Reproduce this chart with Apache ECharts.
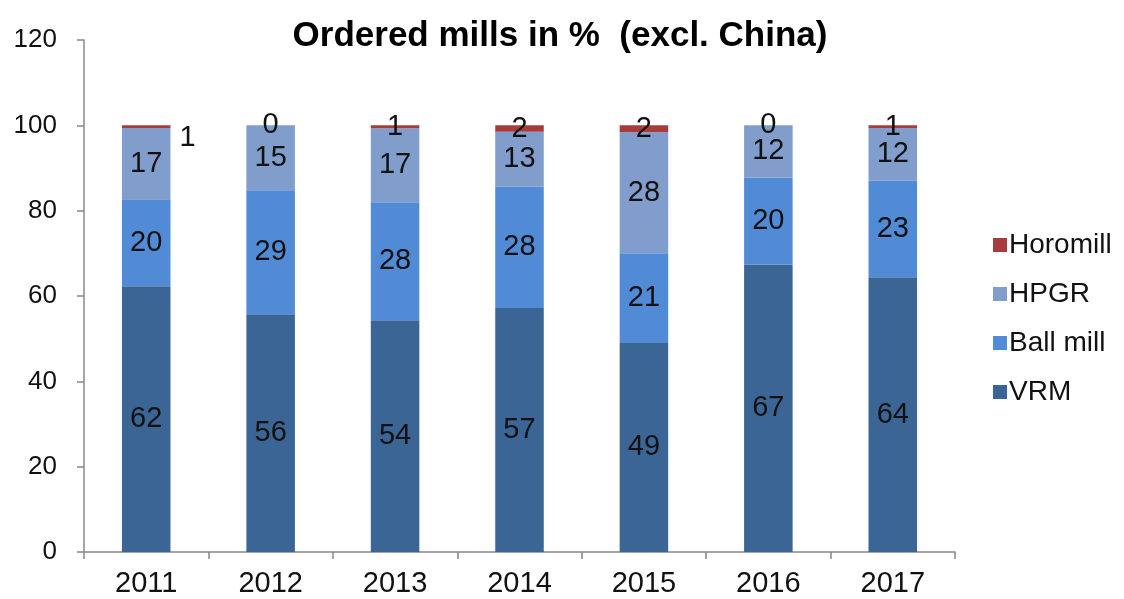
<!DOCTYPE html>
<html>
<head>
<meta charset="utf-8">
<script src="https://cdn.jsdelivr.net/npm/echarts@6/dist/echarts.min.js"></script>
<style>
  html, body { margin: 0; padding: 0; background: #fff; }
  #chart { width: 1124px; height: 599px; }
</style>
</head>
<body>
<div id="chart"></div>
<script>
// values (percent of ordered mills)
const years = ["2011", "2012", "2013", "2014", "2015", "2016", "2017"];
const vrm = [62.3, 55.7, 54.3, 57.2, 49.0, 67.4, 64.4];
const ballMill = [20.4, 29.1, 27.7, 28.4, 21.0, 20.4, 22.6];
const hpgr = [16.7, 15.2, 17.3, 12.9, 28.4, 12.2, 12.4];
const horomill = [0.6, 0, 0.7, 1.5, 1.6, 0, 0.6];

const fontFamily = "Liberation Sans, Arial, sans-serif";

const dom = document.getElementById("chart");
const chart = echarts.init(dom, null, { renderer: "canvas" });

const labelStyle = {
  show: true,
  position: "inside",
  color: "#111",
  fontSize: 29,
  fontFamily: fontFamily,
  formatter: (p) => Math.round(p.value)
};

function barSeries(name, data, color) {
  return {
    name: name,
    type: "bar",
    stack: "mills",
    barWidth: "39%",
    data: data,
    itemStyle: { color: color },
    label: labelStyle
  };
}

// Horomill: the 2011 label sits to the right of the bar
const horomillData = horomill.map((v, i) =>
  i === 0
    ? { value: v, label: { position: "right", distance: 9, offset: [0, 11] } }
    : v
);

chart.setOption({
  animation: false,
  title: {
    text: "Ordered mills in %  (excl. China)",
    left: 555,
    textAlign: "center",
    top: 14,
    textStyle: { fontFamily: fontFamily, fontSize: 35, fontWeight: "bold", color: "#000" }
  },
  grid: { left: 84, right: 169, top: 40, bottom: 47 },
  legend: {
    orient: "vertical",
    left: 988,
    top: 226,
    itemWidth: 14,
    itemHeight: 14,
    itemGap: 21,
    icon: "rect",
    data: ["Horomill", "HPGR", "Ball mill", "VRM"],
    textStyle: { fontFamily: fontFamily, fontSize: 28, color: "#111", padding: [0, 0, 0, -3] }
  },
  xAxis: {
    type: "category",
    data: years,
    axisLine: { lineStyle: { color: "#888", width: 1.5 } },
    axisTick: { show: true, interval: 0, length: 7, lineStyle: { color: "#888", width: 1.5 } },
    axisLabel: { fontFamily: fontFamily, fontSize: 29, color: "#111", margin: 17 }
  },
  yAxis: {
    type: "value",
    min: 0,
    max: 120,
    interval: 20,
    splitLine: { show: false },
    axisLine: { show: true, lineStyle: { color: "#888", width: 1.5 } },
    axisTick: { show: true, length: 7, lineStyle: { color: "#888", width: 1.5 } },
    axisLabel: { fontFamily: fontFamily, fontSize: 26, color: "#111", margin: 27 }
  },
  series: [
    barSeries("VRM", vrm, "#3b6595"),
    barSeries("Ball mill", ballMill, "#528bd5"),
    barSeries("HPGR", hpgr, "#809dcb"),
    barSeries("Horomill", horomillData, "#a63c3c")
  ]
});
</script>
</body>
</html>
